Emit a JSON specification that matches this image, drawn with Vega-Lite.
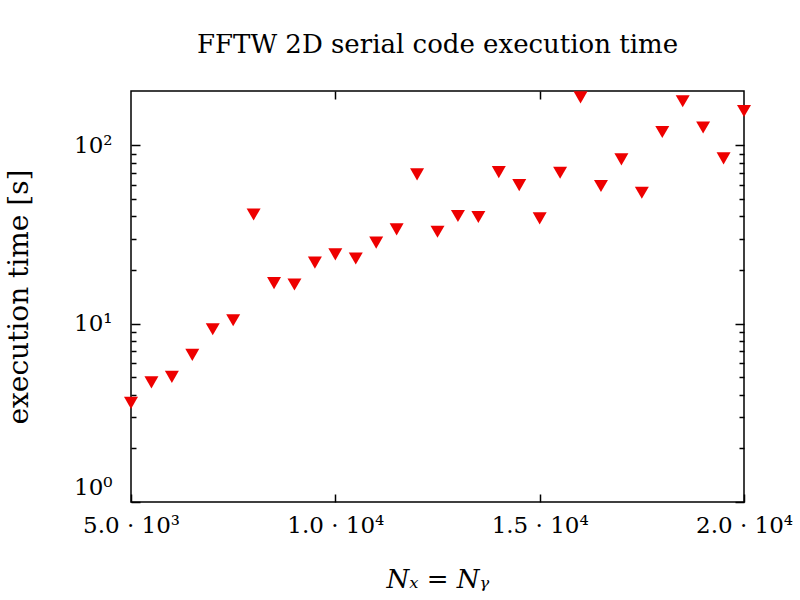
{
  "$schema": "https://vega.github.io/schema/vega-lite/v6.json",
  "width": 613,
  "height": 411,
  "autosize": {"type": "none"},
  "padding": {"left": 131, "top": 91, "right": 56, "bottom": 98},
  "background": "white",
  "title": {
    "text": "FFTW 2D serial code execution time",
    "font": "DejaVu Serif",
    "fontSize": 26,
    "fontWeight": "normal",
    "color": "black",
    "anchor": "middle",
    "frame": "group",
    "offset": 11,
    "baseline": "alphabetic"
  },
  "config": {
    "view": {"stroke": "black", "strokeWidth": 1.5},
    "axis": {
      "grid": false,
      "domain": false,
      "tickColor": "black",
      "tickWidth": 1.5,
      "labelFont": "DejaVu Serif",
      "labelFontSize": 23,
      "labelColor": "black",
      "titleFont": "DejaVu Serif",
      "titleFontSize": 26,
      "titleFontWeight": "normal",
      "titleColor": "black",
      "labelOverlap": false,
      "labelFlush": false
    }
  },
  "data": {
    "values": [
      {"n": 5000, "t": 3.60},
      {"n": 5500, "t": 4.69},
      {"n": 6000, "t": 5.03},
      {"n": 6500, "t": 6.69},
      {"n": 7000, "t": 9.31},
      {"n": 7500, "t": 10.46},
      {"n": 8000, "t": 41.0},
      {"n": 8500, "t": 16.9},
      {"n": 9000, "t": 16.6},
      {"n": 9500, "t": 22.0},
      {"n": 10000, "t": 24.5},
      {"n": 10500, "t": 23.2},
      {"n": 11000, "t": 28.5},
      {"n": 11500, "t": 33.8},
      {"n": 12000, "t": 68.8},
      {"n": 12500, "t": 32.8},
      {"n": 13000, "t": 40.2},
      {"n": 13500, "t": 39.7},
      {"n": 14000, "t": 70.9},
      {"n": 14500, "t": 59.9},
      {"n": 15000, "t": 39.0},
      {"n": 15500, "t": 70.3},
      {"n": 16000, "t": 186},
      {"n": 16500, "t": 59.2},
      {"n": 17000, "t": 83.5},
      {"n": 17500, "t": 54.3},
      {"n": 18000, "t": 119},
      {"n": 18500, "t": 177},
      {"n": 19000, "t": 126},
      {"n": 19500, "t": 84.6},
      {"n": 20000, "t": 156}
    ]
  },
  "layer": [
    {
      "mark": {"type": "point", "shape": "triangle-down", "filled": true, "color": "#ee0000", "size": 196, "opacity": 1},
      "encoding": {
        "x": {
          "field": "n", "type": "quantitative",
          "scale": {"domain": [5000, 20000], "nice": false, "zero": false},
          "axis": {
            "orient": "bottom",
            "values": [5000, 10000, 15000, 20000],
            "labelExpr": "datum.value == 5000 ? '5.0 · 10³' : datum.value == 10000 ? '1.0 · 10⁴' : datum.value == 15000 ? '1.5 · 10⁴' : '2.0 · 10⁴'",
            "tickSize": -8,
            "labelPadding": 20,
            "title": "Nₓ = Nᵧ",
            "titleFontStyle": "italic",
            "titlePadding": 29
          }
        },
        "y": {
          "field": "t", "type": "quantitative",
          "scale": {"type": "log", "domain": [1, 202], "nice": false},
          "axis": {
            "orient": "left",
            "values": [1, 10, 100],
            "labelExpr": "datum.value == 1 ? '10⁰' : datum.value == 10 ? '10¹' : '10²'",
            "tickSize": -9,
            "labelPadding": 28,
            "labelFlush": true,
            "labelFlushOffset": -3,
            "title": "execution time [s]",
            "titleFontSize": 28,
            "titlePadding": 40
          }
        }
      }
    },
    {
      "mark": {"type": "point", "opacity": 0},
      "encoding": {
        "x": {"field": "n", "type": "quantitative", "axis": {"orient": "top", "values": [10000, 15000], "labels": false, "tickSize": -8, "title": null}},
        "y": {"field": "t", "type": "quantitative", "axis": {"orient": "right", "values": [1, 10, 100], "labels": false, "tickSize": -9, "title": null}}
      }
    },
    {
      "mark": {"type": "point", "opacity": 0},
      "encoding": {
        "x": {"field": "n", "type": "quantitative", "axis": null},
        "y": {"field": "t", "type": "quantitative", "axis": {"orient": "left", "values": [2, 3, 4, 5, 6, 7, 8, 9, 20, 30, 40, 50, 60, 70, 80, 90], "labels": false, "tickSize": -5, "title": null}}
      }
    },
    {
      "mark": {"type": "point", "opacity": 0},
      "encoding": {
        "x": {"field": "n", "type": "quantitative", "axis": null},
        "y": {"field": "t", "type": "quantitative", "axis": {"orient": "right", "values": [2, 3, 4, 5, 6, 7, 8, 9, 20, 30, 40, 50, 60, 70, 80, 90], "labels": false, "tickSize": -5, "title": null}}
      }
    }
  ],
  "resolve": {"axis": {"x": "independent", "y": "independent"}}
}
